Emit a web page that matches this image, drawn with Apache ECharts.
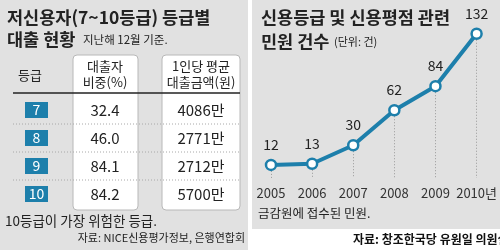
<!DOCTYPE html>
<html><head><meta charset="utf-8">
<script src="https://cdn.jsdelivr.net/npm/echarts@6/dist/echarts.min.js"></script>
<style>html,body{margin:0;padding:0;background:#fff}#c{width:500px;height:250px}</style>
</head><body><div id="c"></div>
<script>
const grades = ['7', '8', '9', '10'];
const borrowerShare = [32.4, 46.0, 84.1, 84.2];
const avgLoan = [4086, 2771, 2712, 5700];
const years = ['2005', '2006', '2007', '2008', '2009', '2010년'];
const complaints = [12, 13, 30, 62, 84, 132];

const FONT = '"Noto Sans CJK KR", "Noto Sans", sans-serif';
const GRAY = '#e1e1e1';
const BLUE = '#1d7fab';
const TXT = '#222';

const chart = echarts.init(document.getElementById('c'), null, {renderer: 'canvas'});

const g = [];
// panels
g.push({type: 'rect', shape: {x: 0, y: 0, width: 248, height: 250}, style: {fill: GRAY}, z: 0});
g.push({type: 'rect', shape: {x: 252, y: 0, width: 248, height: 229}, style: {fill: GRAY}, z: 0});
// left title
g.push({type: 'text', x: 7, y: 17, style: {text: '저신용자(7~10등급) 등급별', font: 'bold 17.5px ' + FONT, fill: TXT, textVerticalAlign: 'middle'}});
g.push({type: 'text', x: 7, y: 39, style: {text: '대출 현황', font: 'bold 17.5px ' + FONT, fill: TXT, textVerticalAlign: 'middle'}});
g.push({type: 'text', x: 83, y: 40, style: {text: '지난해 12월 기준.', font: '11.5px ' + FONT, fill: TXT, textVerticalAlign: 'middle'}});
// table boxes
const colX = [37, 105, 201];
const boxes = [[73, 138], [162, 240]];
boxes.forEach(b => g.push({type: 'rect', shape: {x: b[0], y: 55, width: b[1] - b[0], height: 155, r: 4}, style: {fill: '#fff', stroke: '#b8b8b8', lineWidth: 1}, z: 1}));
// headers
g.push({type: 'text', x: 30, y: 75, style: {text: '등급', font: '13px ' + FONT, fill: TXT, align: 'center', verticalAlign: 'middle'}, z: 2});
g.push({type: 'text', x: colX[1], y: 66, style: {text: '대출자', font: '13px ' + FONT, fill: TXT, align: 'center', verticalAlign: 'middle'}, z: 2});
g.push({type: 'text', x: colX[1], y: 82, style: {text: '비중(%)', font: '13px ' + FONT, fill: TXT, align: 'center', verticalAlign: 'middle'}, z: 2});
g.push({type: 'text', x: colX[2], y: 66, style: {text: '1인당 평균', font: '13px ' + FONT, fill: TXT, align: 'center', verticalAlign: 'middle'}, z: 2});
g.push({type: 'text', x: colX[2], y: 82, style: {text: '대출금액(원)', font: '13px ' + FONT, fill: TXT, align: 'center', verticalAlign: 'middle'}, z: 2});
g.push({type: 'line', shape: {x1: 13, y1: 93, x2: 240, y2: 93}, style: {stroke: '#222', lineWidth: 1.5}, z: 3});
// rows
grades.forEach((gr, i) => {
  const y = 110 + i * 28;
  g.push({type: 'rect', shape: {x: 25, y: y - 8, width: 23, height: 16}, style: {fill: BLUE}, z: 2});
  g.push({type: 'text', x: 36.5, y: y, style: {text: gr, font: '14px ' + FONT, fill: '#fff', align: 'center', verticalAlign: 'middle'}, z: 3});
  g.push({type: 'text', x: colX[1], y: y, style: {text: borrowerShare[i].toFixed(1), font: '15px ' + FONT, fill: TXT, align: 'center', verticalAlign: 'middle'}, z: 3});
  g.push({type: 'text', x: colX[2], y: y, style: {text: avgLoan[i] + '만', font: '15px ' + FONT, fill: TXT, align: 'center', verticalAlign: 'middle'}, z: 3});
  if (i < grades.length - 1) {
    g.push({type: 'line', shape: {x1: 13, y1: y + 14, x2: 240, y2: y + 14}, style: {stroke: '#a8a8a8', lineWidth: 1, lineDash: [1, 2]}, z: 3});
  }
});
g.push({type: 'text', x: 5, y: 221, style: {text: '10등급이 가장 위험한 등급.', font: '13.5px ' + FONT, fill: TXT, verticalAlign: 'middle'}});
g.push({type: 'text', x: 245, y: 238, style: {text: '자료: NICE신용평가정보, 은행연합회', font: '11px ' + FONT, fill: TXT, align: 'right', verticalAlign: 'middle'}});
// right title
g.push({type: 'text', x: 261, y: 17, style: {text: '신용등급 및 신용평점 관련', font: 'bold 17.5px ' + FONT, fill: TXT, verticalAlign: 'middle'}});
g.push({type: 'text', x: 261, y: 41, style: {text: '민원 건수', font: 'bold 17.5px ' + FONT, fill: TXT, verticalAlign: 'middle'}});
g.push({type: 'text', x: 334, y: 42, style: {text: '(단위: 건)', font: '11px ' + FONT, fill: TXT, verticalAlign: 'middle'}});
g.push({type: 'text', x: 258, y: 213, style: {text: '금감원에 접수된 민원.', font: '12.5px ' + FONT, fill: TXT, verticalAlign: 'middle'}});
g.push({type: 'text', x: 353, y: 239, style: {text: '자료: 창조한국당 유원일 의원실', font: 'bold 12px ' + FONT, fill: '#111', verticalAlign: 'middle'}});

chart.setOption({
  animation: false,
  textStyle: {fontFamily: FONT},
  graphic: {elements: g},
  grid: {left: 271, right: 20, top: 25, bottom: 72},
  xAxis: {type: 'category', data: years, boundaryGap: false,
    axisLine: {show: false}, axisTick: {show: false}, splitLine: {show: false},
    axisLabel: {interval: 0, color: '#333', fontSize: 13, margin: 9, fontFamily: FONT, hideOverlap: false}},
  yAxis: {type: 'value', min: 0, max: 140, show: false},
  series: [{
    type: 'line', data: complaints, z: 5,
    lineStyle: {color: BLUE, width: 4},
    symbol: 'circle', symbolSize: 10,
    itemStyle: {color: '#fff', borderColor: BLUE, borderWidth: 2.5},
    label: {show: true, position: 'top', distance: 7, color: '#222', fontSize: 14, fontFamily: FONT},
    markLine: {silent: true, symbol: 'none', label: {show: false}, z: 1,
      lineStyle: {color: '#999', type: [1, 2], width: 1},
      data: complaints.map((v, i) => [{coord: [i, v]}, {coord: [i, 0]}])}
  }]
});
</script></body></html>
